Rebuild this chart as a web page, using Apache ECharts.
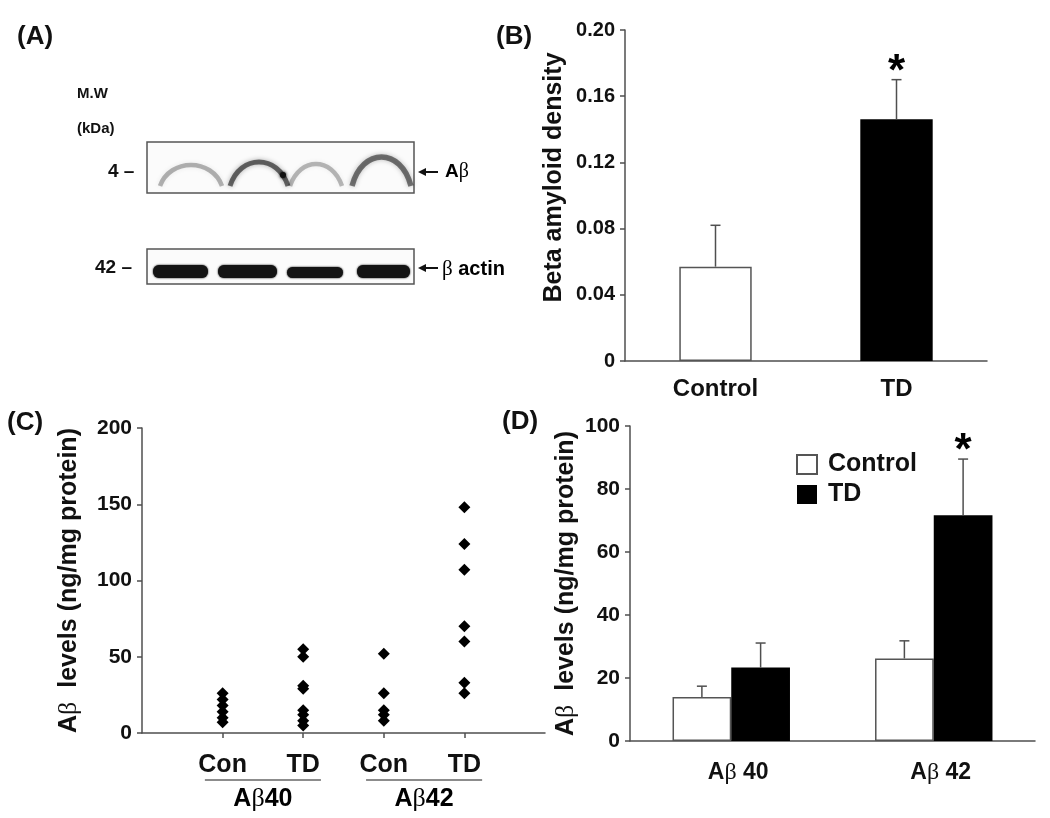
<!DOCTYPE html>
<html><head><meta charset="utf-8">
<script src="https://cdn.jsdelivr.net/npm/echarts@6/dist/echarts.min.js"></script>
<style>html,body{margin:0;padding:0;background:#fff}#c{width:1050px;height:818px}</style>
</head><body><div id="c"></div>
<script>
// ---------- Panel B data ----------
const bCategories = ['Control', 'TD'];
const bMeans = [0.057, 0.146];
const bErrors = [0.025, 0.024];
const bStars = ['', '*'];
// ---------- Panel C data ----------
const cGroups = ['Con', 'TD', 'Con', 'TD'];
const cPeptides = ['Aβ40', 'Aβ42'];
const cConA40 = [26, 22, 18, 14, 10, 7];
const cTdA40 = [55, 50, 31, 29, 15, 12, 8, 5];
const cConA42 = [52, 26, 15, 12, 8];
const cTdA42 = [148, 124, 107, 70, 60, 33, 26];
// ---------- Panel D data ----------
const dCategories = ['Aβ 40', 'Aβ 42'];
const dControl = [14.0, 26.2];
const dControlErr = [3.4, 5.6];
const dTD = [23.3, 71.7];
const dTDErr = [7.8, 17.8];
const dControlStars = ['', ''];
const dTDStars = ['', '*'];

const FONT = '"Liberation Sans", Arial, Helvetica, sans-serif';
const SERIF = '"Liberation Serif", "DejaVu Serif", serif';
const AXIS = '#4f4f4f';
const TXT = '#111';

const chart = echarts.init(document.getElementById('c'));

function betaRich(size) {
  return {
    a: { fontFamily: FONT, fontWeight: 'bold', fontSize: size, color: TXT },
    b: { fontFamily: SERIF, fontWeight: 'normal', fontSize: size + 1, color: TXT }
  };
}
function betaText(s) {
  const i = s.indexOf('β');
  return '{a|' + s.slice(0, i) + '}{b|β}{a|' + s.slice(i + 1) + '}';
}

function errorBars(xi, yi, means, errs, stars, offsetFrac) {
  return {
    type: 'custom', xAxisIndex: xi, yAxisIndex: yi, z: 5, silent: true,
    data: means.map((m, i) => [i, m, errs[i]]),
    renderItem: (params, api) => {
      const i = api.value(0), m = api.value(1), e = api.value(2);
      const band = api.size([1, 0])[0];
      const base = api.coord([i, m]);
      const top = api.coord([i, m + e]);
      const x = base[0] + offsetFrac * band;
      const cap = 5;
      const children = [
        { type: 'line', shape: { x1: x, y1: base[1], x2: x, y2: top[1] }, style: { stroke: AXIS, lineWidth: 1.5 } },
        { type: 'line', shape: { x1: x - cap, y1: top[1], x2: x + cap, y2: top[1] }, style: { stroke: AXIS, lineWidth: 1.5 } }
      ];
      const s = stars[params.dataIndex];
      if (s) {
        children.push({ type: 'text', style: { text: s, x: x, y: top[1] - 7, align: 'center', verticalAlign: 'middle', font: 'bold 44px ' + FONT, fill: '#000' } });
      }
      return { type: 'group', children };
    }
  };
}

const axisLineStyle = { show: true, lineStyle: { color: AXIS, width: 1.5 } };
const yLabel = (size) => ({ fontFamily: FONT, fontWeight: 'bold', fontSize: size, color: TXT, margin: 10 });
const dot = { color: '#000', opacity: 1 };

const option = {
  animation: false,
  backgroundColor: '#fff',
  grid: [
    { left: 625, top: 30, width: 362, height: 331 },
    { left: 142, top: 428, width: 403, height: 305 },
    { left: 630, top: 426, width: 405, height: 315 }
  ],
  xAxis: [
    { gridIndex: 0, type: 'category', data: bCategories, axisLine: axisLineStyle, axisTick: { show: false },
      axisLabel: { fontFamily: FONT, fontWeight: 'bold', fontSize: 24, color: TXT, margin: 16 } },
    { gridIndex: 1, type: 'value', min: 0, max: 5, interval: 1, axisLine: axisLineStyle, splitLine: { show: false },
      axisTick: { show: true, inside: false, length: 5, lineStyle: { color: AXIS, width: 1.5 }, customValues: [1, 2, 3, 4] },
      axisLabel: { customValues: [1, 2, 3, 4], formatter: v => cGroups[v - 1] || '', fontFamily: FONT, fontWeight: 'bold', fontSize: 25, color: TXT, margin: 20 } },
    { gridIndex: 2, type: 'category', data: dCategories, axisLine: axisLineStyle, axisTick: { show: false },
      axisLabel: { formatter: v => betaText(v), rich: betaRich(23), margin: 20, padding: [0, 0, 0, 14] } }
  ],
  yAxis: [
    { gridIndex: 0, type: 'value', min: 0, max: 0.2, interval: 0.04, axisLine: axisLineStyle, splitLine: { show: false },
      axisTick: { show: true, length: 5, lineStyle: { color: AXIS, width: 1.5 } },
      axisLabel: Object.assign(yLabel(20), { formatter: v => v === 0 ? '0' : v.toFixed(2) }),
      name: 'Beta amyloid density', nameLocation: 'middle', nameGap: 58,
      nameTextStyle: { fontFamily: FONT, fontWeight: 'bold', fontSize: 25, color: TXT, padding: [0, 0, 0, 36] } },
    { gridIndex: 1, type: 'value', min: 0, max: 200, interval: 50, axisLine: axisLineStyle, splitLine: { show: false },
      axisTick: { show: true, length: 5, lineStyle: { color: AXIS, width: 1.5 } },
      axisLabel: yLabel(21),
      name: '{a|A}{b|β}{a|  levels (ng/mg protein)}', nameLocation: 'middle', nameGap: 60,
      nameTextStyle: { rich: betaRich(25) } },
    { gridIndex: 2, type: 'value', min: 0, max: 100, interval: 20, axisLine: axisLineStyle, splitLine: { show: false },
      axisTick: { show: true, length: 5, lineStyle: { color: AXIS, width: 1.5 } },
      axisLabel: yLabel(21),
      name: '{a|A}{b|β}{a|  levels (ng/mg protein)}', nameLocation: 'middle', nameGap: 51,
      nameTextStyle: { rich: betaRich(25) } }
  ],
  legend: {
    orient: 'vertical', left: 791, top: 447, itemWidth: 20, itemHeight: 19, itemGap: 5, icon: 'rect',
    selectedMode: false,
    textStyle: { fontFamily: FONT, fontWeight: 'bold', fontSize: 25, color: TXT, padding: [0, 0, 0, 6] },
    data: ['Control', 'TD']
  },
  series: [
    // Panel B
    { type: 'bar', name: 'B', xAxisIndex: 0, yAxisIndex: 0, barWidth: '40%',
      data: bMeans.map((v, i) => ({ value: v, itemStyle: i === 0 ? { color: '#fff', borderColor: '#555', borderWidth: 1.5 } : { color: '#000' } })) },
    errorBars(0, 0, bMeans, bErrors, bStars, 0),
    // Panel C
    { type: 'scatter', xAxisIndex: 1, yAxisIndex: 1, symbol: 'diamond', symbolSize: [12, 12], itemStyle: dot, data: cConA40.map(v => [1, v]) },
    { type: 'scatter', xAxisIndex: 1, yAxisIndex: 1, symbol: 'diamond', symbolSize: [12, 12], itemStyle: dot, data: cTdA40.map(v => [2, v]) },
    { type: 'scatter', xAxisIndex: 1, yAxisIndex: 1, symbol: 'diamond', symbolSize: [12, 12], itemStyle: dot, data: cConA42.map(v => [3, v]) },
    { type: 'scatter', xAxisIndex: 1, yAxisIndex: 1, symbol: 'diamond', symbolSize: [12, 12], itemStyle: dot, data: cTdA42.map(v => [4, v]) },
    // Panel D
    { type: 'bar', name: 'Control', xAxisIndex: 2, yAxisIndex: 2, barWidth: '29%', barGap: '0%',
      itemStyle: { color: '#fff', borderColor: '#555', borderWidth: 1.5 }, data: dControl },
    { type: 'bar', name: 'TD', xAxisIndex: 2, yAxisIndex: 2, barWidth: '29%', barGap: '0%',
      itemStyle: { color: '#000' }, data: dTD },
    errorBars(2, 2, dControl, dControlErr, dControlStars, -0.145),
    errorBars(2, 2, dTD, dTDErr, dTDStars, 0.145)
  ]
};
chart.setOption(option);

// ---------- annotations ----------
const g = [];
const title = (t, x, y) => g.push({ type: 'text', left: x, top: y, style: { text: t, font: 'bold 26px ' + FONT, fill: TXT } });
title('(A)', 17, 24);
title('(B)', 496, 24);
title('(C)', 7, 410);
title('(D)', 502, 409);

// Panel A: western blot sketch
const plain = (t, x, y, size) => g.push({ type: 'text', x: x, y: y, style: { text: t, font: 'bold ' + size + 'px ' + FONT, fill: TXT, verticalAlign: 'middle' } });
plain('M.W', 77, 94, 15);
plain('(kDa)', 77, 129, 15);
plain('4 –', 108, 172, 19);
plain('42 –', 95, 268, 19);
g.push({ type: 'rect', shape: { x: 147, y: 142, width: 267, height: 51 }, style: { fill: '#fbfbfb', stroke: '#555', lineWidth: 1.5 } });
g.push({ type: 'rect', shape: { x: 147, y: 249, width: 267, height: 35 }, style: { fill: '#fbfbfb', stroke: '#555', lineWidth: 1.5 } });
const arc = (x1, x2, peak, alpha, w) => g.push({ type: 'bezierCurve',
  shape: { x1: x1, y1: 186, cpx1: x1 + 10, cpy1: peak - (186 - peak) / 3, cpx2: x2 - 10, cpy2: peak - (186 - peak) / 3, x2: x2, y2: 186 },
  style: { stroke: 'rgba(0,0,0,' + alpha + ')', lineWidth: w, fill: null, shadowBlur: 5, shadowColor: 'rgba(0,0,0,' + alpha + ')' } });
arc(160, 222, 165, 0.28, 4.5);
arc(230, 288, 162, 0.55, 5);
arc(290, 342, 164, 0.26, 4.5);
arc(352, 411, 157, 0.5, 5.5);
g.push({ type: 'circle', shape: { cx: 283, cy: 175, r: 3 }, style: { fill: '#111', shadowBlur: 3, shadowColor: '#000' } });
const band = (x1, x2, y1, y2) => g.push({ type: 'rect', shape: { x: x1, y: y1, width: x2 - x1, height: y2 - y1, r: 6 }, style: { fill: '#141414', shadowBlur: 2, shadowColor: '#000' } });
band(153, 208, 265, 278);
band(218, 277, 265, 278);
band(287, 343, 267, 278);
band(357, 410, 265, 278);
const arrow = (y) => {
  g.push({ type: 'line', shape: { x1: 424, y1: y, x2: 438, y2: y }, style: { stroke: '#111', lineWidth: 2 } });
  g.push({ type: 'polygon', shape: { points: [[418, y], [426, y - 4], [426, y + 4]] }, style: { fill: '#111' } });
};
arrow(172);
arrow(268);
g.push({ type: 'text', x: 445, y: 172, style: { text: '{a|A}{b|β}', rich: betaRich(19), verticalAlign: 'middle' } });
g.push({ type: 'text', x: 442, y: 269, style: { text: '{b|β}{a| actin}', rich: betaRich(20), verticalAlign: 'middle' } });

// Panel C group labels
[1.5, 3.5].forEach((cx, k) => {
  const pc = chart.convertToPixel({ gridIndex: 1 }, [cx, 0]);
  const pl = chart.convertToPixel({ gridIndex: 1 }, [cx - 0.72, 0]);
  const pr = chart.convertToPixel({ gridIndex: 1 }, [cx + 0.72, 0]);
  g.push({ type: 'line', shape: { x1: pl[0], y1: 780, x2: pr[0], y2: 780 }, style: { stroke: '#666', lineWidth: 1.5 } });
  g.push({ type: 'text', x: pc[0], y: 799, style: { text: betaText(cPeptides[k]), rich: betaRich(25), align: 'center', verticalAlign: 'middle' } });
});

chart.setOption({ graphic: g });
</script>
</body></html>
